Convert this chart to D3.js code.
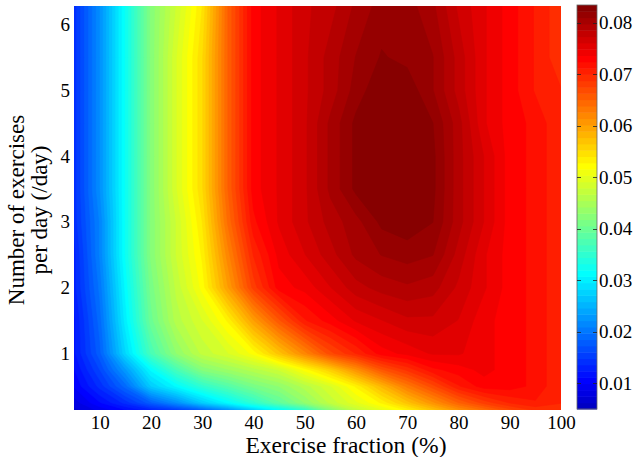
<!DOCTYPE html>
<html>
<head>
<meta charset="utf-8">
<script src="https://cdn.jsdelivr.net/npm/d3@7"></script>
<style>
  body { margin: 0; background: #fff; }
  svg text { font-family: "Liberation Serif", "DejaVu Serif", serif; fill: #000; }
</style>
</head>
<body>
<svg class="main" width="636" height="457"></svg>
<script>
// grid: one row per Y value (bottom -> top), one column per X value
var X_VALUES = [5, 10, 15, 20, 25, 30, 35, 40, 45, 50, 55, 60, 65, 70, 75, 80, 85, 90, 95, 100];
var Y_VALUES = [0.14, 0.25, 0.5, 0.75, 1, 1.5, 2, 2.5, 3, 3.5, 4, 4.5, 5, 5.5, 6.28];
var Z_ROWS = [
  [.007, .009, .011, .013, .015, .018, .022, .027, .031, .035, .042, .047, .050, .053, .057, .061, .064, .067, .069, .069],
  [.008, .011, .014, .018, .022, .027, .031, .035, .039, .043, .047, .050, .053, .057, .061, .065, .068, .070, .071, .070],
  [.010, .014, .019, .027, .031, .035, .038, .041, .043, .046, .049, .053, .058, .063, .067, .071, .073, .073, .072, .070],
  [.011, .016, .023, .031, .037, .042, .044, .046, .048, .052, .056, .061, .066, .069, .072, .073, .074, .073, .072, .070],
  [.012, .018, .028, .037, .043, .047, .049, .052, .057, .062, .067, .070, .073, .074, .075, .075, .074, .073, .072, .070],
  [.012, .019, .030, .040, .046, .049, .053, .060, .066, .071, .073, .075, .076, .077, .077, .076, .074, .073, .072, .070],
  [.013, .020, .031, .041, .047, .052, .060, .068, .073, .074, .076, .078, .079, .0795, .079, .077, .075, .073, .072, .070],
  [.013, .021, .032, .042, .048, .053, .062, .070, .074, .076, .078, .080, .081, .0815, .081, .078, .075, .073, .072, .070],
  [.014, .021, .032, .042, .048, .054, .064, .072, .075, .077, .079, .0805, .0825, .083, .0822, .079, .076, .073, .072, .070],
  [.014, .022, .032, .042, .049, .055, .065, .073, .075, .077, .080, .0825, .0835, .0835, .0825, .079, .076, .073, .072, .070],
  [.014, .022, .032, .042, .049, .055, .065, .073, .075, .077, .080, .0825, .084, .084, .0825, .079, .076, .073, .072, .070],
  [.014, .022, .032, .042, .049, .055, .065, .073, .075, .077, .080, .0825, .084, .0835, .0822, .079, .075, .073, .072, .070],
  [.014, .022, .032, .042, .049, .055, .065, .073, .075, .077, .079, .0815, .0832, .083, .081, .078, .075, .073, .071, .070],
  [.014, .022, .032, .042, .049, .055, .065, .073, .075, .077, .079, .081, .0823, .0818, .081, .078, .075, .073, .071, .069],
  [.014, .022, .032, .042, .048, .054, .065, .073, .075, .077, .078, .080, .0815, .0815, .080, .077, .075, .073, .071, .069]
];
var X_TICKS = [10, 20, 30, 40, 50, 60, 70, 80, 90, 100];
var Y_TICKS = [1, 2, 3, 4, 5, 6];
var C_TICKS = [0.01, 0.02, 0.03, 0.04, 0.05, 0.06, 0.07, 0.08];
var X_DOMAIN = [5, 100];
var Y_DOMAIN = [0.14, 6.28];
var C_DOMAIN = [0.005, 0.0834];
var N_LEVELS = 64;

var X_LABEL = 'Exercise fraction (%)';
var Y_LABEL = ['Number of exercises', 'per day (/day)'];

var svg = d3.select('svg.main');
var plot = { left: 74, right: 561, top: 6, bottom: 410 };
var cbar = { left: 577, right: 597, top: 5, bottom: 409 };

var xScale = d3.scaleLinear().domain(X_DOMAIN).range([plot.left, plot.right]);
var yScale = d3.scaleLinear().domain(Y_DOMAIN).range([plot.bottom, plot.top]);
var cScale = d3.scaleLinear().domain(C_DOMAIN).range([cbar.bottom, cbar.top]);

var levelStep = (C_DOMAIN[1] - C_DOMAIN[0]) / N_LEVELS;
var levels = d3.range(N_LEVELS).map(function(i) { return C_DOMAIN[0] + i * levelStep; });

// matlab-ish jet
function jet(v) {
  var t = v / C_DOMAIN[1];
  function c(a) { return Math.max(0, Math.min(1, a)) * 255; }
  return d3.rgb(c(1.5 - Math.abs(4 * t - 3)), c(1.5 - Math.abs(4 * t - 2)), c(1.5 - Math.abs(4 * t - 1))).toString();
}
function levelColor(i) { return jet(levels[i] + levelStep / 2); }

function drawContours() {
  var nx = X_VALUES.length, ny = Y_VALUES.length;
  var flat = [];
  Z_ROWS.forEach(function(row) { flat = flat.concat(row); });

  // grid index -> data value (grid can be uneven)
  var ix = d3.scaleLinear().domain(d3.range(nx)).range(X_VALUES).clamp(true);
  var iy = d3.scaleLinear().domain(d3.range(ny)).range(Y_VALUES).clamp(true);

  var proj = d3.geoTransform({
    point: function(x, y) {
      this.stream.point(xScale(ix(x - 0.5)), yScale(iy(y - 0.5)));
    }
  });
  var path = d3.geoPath(proj);

  var contours = d3.contours().size([nx, ny]).thresholds(levels)(flat);

  svg.append('clipPath').attr('id', 'plot-clip')
    .append('rect')
    .attr('x', plot.left).attr('y', plot.top)
    .attr('width', plot.right - plot.left).attr('height', plot.bottom - plot.top);

  svg.append('g').attr('clip-path', 'url(#plot-clip)')
    .selectAll('path')
    .data(contours)
    .enter().append('path')
    .attr('d', path)
    .attr('fill', function(d, i) { return levelColor(i); })
    .attr('stroke', function(d, i) { return levelColor(i); })
    .attr('stroke-width', 0.6);
}

function drawAxes() {
  var xAxis = svg.append('g')
    .attr('transform', 'translate(0,' + plot.bottom + ')')
    .call(d3.axisBottom(xScale).tickValues(X_TICKS).tickSize(0).tickPadding(6).tickFormat(d3.format('d')));
  var yAxis = svg.append('g')
    .attr('transform', 'translate(' + plot.left + ',0)')
    .call(d3.axisLeft(yScale).tickValues(Y_TICKS).tickSize(0).tickPadding(4).tickFormat(d3.format('d')));

  [xAxis, yAxis].forEach(function(a) {
    a.select('.domain').remove();
    a.selectAll('text').style('font-size', '19px').attr('fill', '#000');
  });

  svg.append('text')
    .attr('x', 346).attr('y', 453)
    .attr('text-anchor', 'middle')
    .style('font-size', '23.5px')
    .text(X_LABEL);

  Y_LABEL.forEach(function(line, i) {
    svg.append('text')
      .attr('transform', 'translate(' + (24 + i * 23) + ',' + 210 + ')rotate(-90)')
      .attr('text-anchor', 'middle')
      .style('font-size', '23px')
      .text(line);
  });
}

function drawColorbar() {
  var g = svg.append('g');
  g.selectAll('rect.band')
    .data(levels)
    .enter().append('rect')
    .attr('class', 'band')
    .attr('x', cbar.left)
    .attr('width', cbar.right - cbar.left)
    .attr('y', function(d) { return cScale(d + levelStep); })
    .attr('height', function(d) { return cScale(d) - cScale(d + levelStep) + 0.5; })
    .attr('fill', function(d, i) { return levelColor(i); });

  g.append('rect')
    .attr('x', cbar.left).attr('y', cbar.top)
    .attr('width', cbar.right - cbar.left).attr('height', cbar.bottom - cbar.top)
    .attr('fill', 'none').attr('stroke', '#666').attr('stroke-width', 0.8);

  C_TICKS.forEach(function(t) {
    var y = Math.round(cScale(t)) + 0.5;
    g.append('line').attr('x1', cbar.left).attr('x2', cbar.left + 4).attr('y1', y).attr('y2', y)
      .attr('stroke', '#222').attr('stroke-width', 0.8);
    g.append('line').attr('x1', cbar.right - 4).attr('x2', cbar.right).attr('y1', y).attr('y2', y)
      .attr('stroke', '#222').attr('stroke-width', 0.8);
  });

  var axis = g.append('g')
    .attr('transform', 'translate(' + cbar.right + ',0)')
    .call(d3.axisRight(cScale).tickValues(C_TICKS).tickSize(0).tickPadding(2).tickFormat(d3.format('.2f')));
  axis.select('.domain').remove();
  axis.selectAll('text').style('font-size', '19px').attr('fill', '#000');
}

function main() {
  drawContours();
  drawAxes();
  drawColorbar();
}

main();
</script>
</body>
</html>
